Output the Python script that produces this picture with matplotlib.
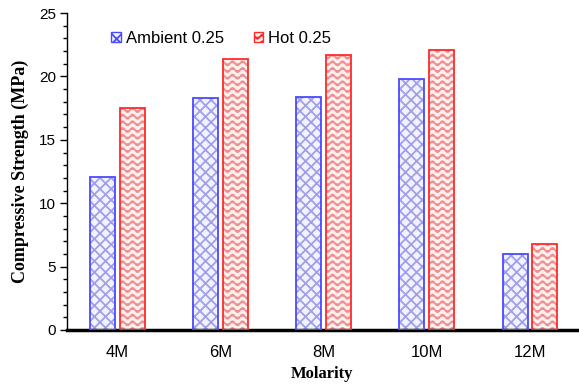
import warnings

import numpy as np
import matplotlib
matplotlib.use("Agg")
import matplotlib.pyplot as plt
import matplotlib.hatch as mhatch
from matplotlib.path import Path
from matplotlib.ticker import MultipleLocator

warnings.filterwarnings("ignore")

# ── data ─────────────────────────────────────────────────────────────────────
molarity = ["4M", "6M", "8M", "10M", "12M"]
ambient_025 = [12.1, 18.3, 18.4, 19.8, 6.0]
hot_025 = [17.5, 21.35, 21.7, 22.1, 6.8]
series_names = ["Ambient 0.25", "Hot 0.25"]


# ── wavy hatch ('~') registered alongside the built-in patterns ───────────────
class _WaveHatch(mhatch.HatchPatternBase):
    n_seg = 96
    periods = 10
    amp = 0.021

    def __init__(self, hatch, density):
        self.num_lines = int(hatch.count("~") * density * 0.85)
        self.num_vertices = self.num_lines * (self.n_seg + 1)

    def set_vertices_and_codes(self, vertices, codes):
        t = np.linspace(0.0, 1.0, self.n_seg + 1)
        n = self.n_seg + 1
        for i in range(self.num_lines):
            y0 = (i + 0.5) / self.num_lines
            vertices[i * n:(i + 1) * n, 0] = t
            vertices[i * n:(i + 1) * n, 1] = y0 + self.amp * np.sin(2 * np.pi * self.periods * t)
            codes[i * n] = Path.MOVETO
            codes[i * n + 1:(i + 1) * n] = Path.LINETO


mhatch._hatch_types.append(_WaveHatch)

plt.rcParams["hatch.linewidth"] = 1.3

fig = plt.figure(figsize=(5.79, 3.85), dpi=100)
ax = fig.add_axes([0.1157, 0.1429, 0.8808, 0.8231])

x = np.arange(len(molarity))
w = 0.242
off = 0.145

styles = [
    dict(face="#f3f3ff", hatchc="#a0a0ea", edge="#4a4aff", hatch="xxx"),
    dict(face="#fff0f0", hatchc="#ee9090", edge="#ff2a2a", hatch="~~~"),
]

for vals, dx, st, name in zip([ambient_025, hot_025], [-off, off], styles, series_names):
    # hatch drawn in a lighter tone, outline drawn on top in the full colour
    ax.bar(x + dx, vals, w, color=st["face"], edgecolor=st["hatchc"],
           hatch=st["hatch"], linewidth=0, zorder=2)
    ax.bar(x + dx, vals, w, fill=False, edgecolor=st["edge"], linewidth=1.3,
           zorder=3)
    ax.bar(0, 0, 0, color=st["face"], edgecolor=st["edge"], hatch=st["hatch"],
           linewidth=1.0, label=name)

ax.set_xlim(-0.485, 4.455)
ax.set_ylim(0, 25)
ax.set_xticks(x)
ax.set_xticklabels(molarity)
ax.yaxis.set_major_locator(MultipleLocator(5))
ax.yaxis.set_minor_locator(MultipleLocator(1))

ax.tick_params(axis="x", length=0, pad=11, labelsize=12)
ax.tick_params(axis="y", which="major", direction="out", length=5, width=1,
               labelsize=11, pad=3)
ax.tick_params(axis="y", which="minor", direction="out", length=3, width=1)

for s in ("top", "right"):
    ax.spines[s].set_visible(False)
ax.spines["left"].set_linewidth(1.0)
ax.spines["bottom"].set_linewidth(2.5)

for lab in ax.get_xticklabels() + ax.get_yticklabels():
    lab.set_fontfamily("Liberation Sans")

ax.set_ylabel("Compressive Strength (MPa)", fontfamily="Liberation Serif",
              fontweight="bold", fontsize=13, labelpad=7)
ax.set_xlabel("Molarity", fontfamily="Liberation Serif", fontweight="bold",
              fontsize=12, labelpad=4)

ax.legend(loc="upper left", bbox_to_anchor=(0.074, 0.965), ncol=2, frameon=False,
          prop={"family": "Liberation Sans", "size": 12},
          handlelength=0.55, handleheight=0.62, handletextpad=0.3,
          columnspacing=1.8, borderaxespad=0)

fig.savefig("out.png", dpi=100)
